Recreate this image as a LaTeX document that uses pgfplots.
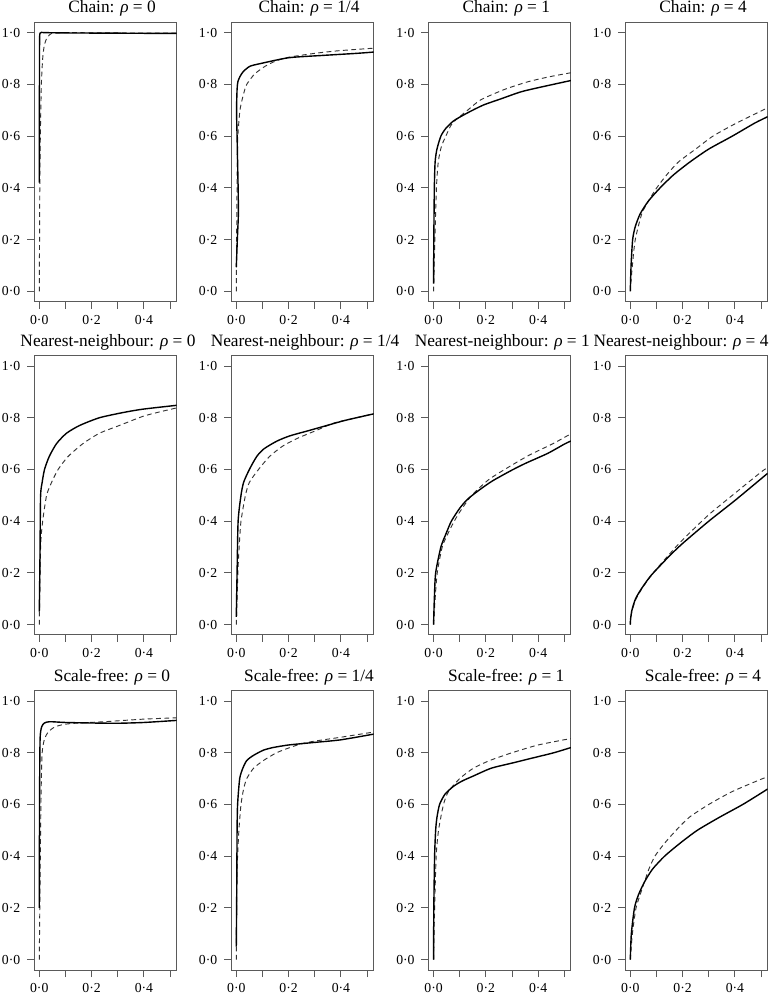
\documentclass[border=0pt]{standalone}
\usepackage{fontspec}
\setmainfont{Liberation Serif}
\usepackage{pgfplots}
\pgfplotsset{compat=1.18}
\definecolor{boxgray}{HTML}{5A5A5A}

\pgfplotsset{
  panel/.style={
    scale only axis, width=107pt, height=209.5pt, anchor=south west,
    xmin=-0.0202, xmax=0.5252, ymin=-0.04, ymax=1.04,
    axis line style={boxgray, line width=0.75pt},
    tick pos=left, tick align=outside, major tick length=5.25pt,
    tick style={boxgray, line width=0.75pt},
    xtick={0,0.1,0.2,0.3,0.4,0.5}, xticklabels={0·0,,0·2,,0·4,},
    ytick={0,0.2,0.4,0.6,0.8,1}, yticklabels={0·0,0·2,0·4,0·6,0·8,1·0},
    ticklabel style={font=\fontsize{10.3}{12}\selectfont},
    yticklabel style={xshift=-1.5pt},
    xticklabel style={yshift=-1.5pt},
    every axis title shift=0pt,
    title style={font=\fontsize{13}{15}\selectfont, at={(0.5,1)}, anchor=base, yshift=7pt, xshift=5pt},
  },
  nn/.style={title style={xshift=-3pt}},
  sol/.style={black, line width=1.05pt, no marks, smooth, tension=0.4},
  das/.style={black!80, line width=0.7pt, dash pattern=on 3.6pt off 2.6pt, no marks, smooth, tension=0.4},
}

\begin{document}
\begin{tikzpicture}
\useasboundingbox (0,0) rectangle (581.25pt,746.25pt);

% ---- row 1: chain
\begin{axis}[panel, at={(25.5pt,520pt)}, title={Chain: \textit{ρ} = 0}]
\addplot[das] coordinates {(0,0) (0.001,0.2) (0.002,0.4) (0.004,0.6) (0.008,0.8) (0.013,0.9) (0.019,0.95) (0.027,0.975) (0.034,0.985) (0.047,0.997) (0.1,1.0) (0.3,0.999) (0.525,0.998)};
\addplot[sol] coordinates {(0,0.42) (0.0005,0.7) (0.001,0.95) (0.003,0.998) (0.02,1.0) (0.1,0.999) (0.3,0.998) (0.525,0.997)};
\end{axis}

\begin{axis}[panel, at={(173.25pt,520pt)}, title={Chain: \textit{ρ} = 1/4}]
\addplot[das] coordinates {(0,0) (0.002,0.3) (0.004,0.5) (0.006,0.6) (0.014,0.7) (0.027,0.76) (0.04,0.8) (0.07,0.84) (0.11,0.87) (0.15,0.89) (0.2,0.905) (0.3,0.92) (0.39,0.93) (0.525,0.94)};
\addplot[sol] coordinates {(0,0.093) (0.004,0.2) (0.008,0.3) (0.007,0.4) (0.005,0.5) (0.003,0.6) (0.001,0.7) (0.003,0.78) (0.006,0.81) (0.014,0.83) (0.027,0.85) (0.052,0.87) (0.09,0.88) (0.2,0.903) (0.33,0.912) (0.46,0.92) (0.525,0.925)};
\end{axis}

\begin{axis}[panel, at={(321.2pt,520pt)}, title={Chain: \textit{ρ} = 1}]
\addplot[das] coordinates {(0,0) (0.005,0.2) (0.011,0.4) (0.018,0.5) (0.03,0.56) (0.047,0.6) (0.072,0.65) (0.13,0.7) (0.18,0.74) (0.27,0.78) (0.36,0.81) (0.445,0.83) (0.525,0.845)};
\addplot[sol] coordinates {(0,0.03) (0.001,0.2) (0.003,0.4) (0.006,0.5) (0.013,0.55) (0.028,0.6) (0.047,0.63) (0.078,0.66) (0.13,0.69) (0.19,0.72) (0.26,0.745) (0.33,0.77) (0.39,0.785) (0.525,0.815)};
\end{axis}

\begin{axis}[panel, at={(468.75pt,520pt)}, title={Chain: \textit{ρ} = 4}]
\addplot[das] coordinates {(0.002,0.03) (0.008,0.1) (0.019,0.2) (0.044,0.3) (0.07,0.35) (0.101,0.4) (0.139,0.45) (0.184,0.5) (0.25,0.55) (0.316,0.6) (0.405,0.65) (0.506,0.7) (0.525,0.71)};
\addplot[sol] coordinates {(0,0) (0.003,0.1) (0.009,0.2) (0.019,0.25) (0.038,0.3) (0.07,0.35) (0.114,0.4) (0.165,0.45) (0.228,0.5) (0.30,0.55) (0.39,0.6) (0.475,0.65) (0.525,0.675)};
\end{axis}

% ---- row 2: nearest-neighbour
\begin{axis}[panel, nn, at={(25.5pt,270pt)}, title={Nearest-neighbour: \textit{ρ} = 0}]
\addplot[das] coordinates {(0,0) (0.005,0.3) (0.013,0.4) (0.028,0.5) (0.047,0.55) (0.072,0.6) (0.11,0.65) (0.167,0.7) (0.23,0.74) (0.306,0.77) (0.395,0.805) (0.458,0.822) (0.525,0.838)};
\addplot[sol] coordinates {(0,0.05) (0.002,0.2) (0.003,0.3) (0.005,0.5) (0.011,0.55) (0.02,0.6) (0.038,0.65) (0.066,0.7) (0.104,0.74) (0.154,0.77) (0.23,0.8) (0.32,0.82) (0.395,0.833) (0.525,0.848)};
\end{axis}

\begin{axis}[panel, nn, at={(173.25pt,270pt)}, title={Nearest-neighbour: \textit{ρ} = 1/4}]
\addplot[das] coordinates {(0,0) (0.006,0.2) (0.011,0.3) (0.018,0.4) (0.035,0.5) (0.05,0.55) (0.085,0.6) (0.127,0.65) (0.177,0.69) (0.233,0.72) (0.304,0.75) (0.375,0.78) (0.46,0.8) (0.525,0.815)};
\addplot[sol] coordinates {(0,0.03) (0.003,0.2) (0.007,0.4) (0.018,0.5) (0.028,0.55) (0.05,0.6) (0.078,0.65) (0.106,0.68) (0.156,0.71) (0.205,0.73) (0.276,0.75) (0.346,0.77) (0.417,0.79) (0.525,0.815)};
\end{axis}

\begin{axis}[panel, nn, at={(321.2pt,270pt)}, title={Nearest-neighbour: \textit{ρ} = 1}]
\addplot[das] coordinates {(0,0) (0.006,0.1) (0.014,0.2) (0.033,0.3) (0.054,0.35) (0.079,0.4) (0.103,0.44) (0.146,0.5) (0.21,0.56) (0.28,0.605) (0.365,0.655) (0.457,0.7) (0.525,0.738)};
\addplot[sol] coordinates {(0,0) (0.003,0.1) (0.008,0.2) (0.028,0.3) (0.047,0.35) (0.068,0.4) (0.1,0.45) (0.13,0.485) (0.174,0.52) (0.224,0.555) (0.295,0.595) (0.35,0.623) (0.436,0.662) (0.5,0.698) (0.525,0.71)};
\end{axis}

\begin{axis}[panel, nn, at={(468.75pt,270pt)}, title={Nearest-neighbour: \textit{ρ} = 4}, title style={xshift=-13.5pt}]
\addplot[das] coordinates {(0,0) (0.001,0.018) (0.005,0.045) (0.01,0.065) (0.02,0.095) (0.035,0.123) (0.05,0.148) (0.075,0.183) (0.1,0.215) (0.15,0.273) (0.2,0.328) (0.3,0.425) (0.4,0.508) (0.5,0.59) (0.525,0.607)};
\addplot[sol] coordinates {(0,0) (0.001,0.02) (0.005,0.05) (0.01,0.07) (0.02,0.1) (0.035,0.127) (0.05,0.15) (0.075,0.185) (0.1,0.213) (0.15,0.266) (0.2,0.314) (0.3,0.4) (0.4,0.48) (0.5,0.564) (0.525,0.585)};
\end{axis}

% ---- row 3: scale-free
\begin{axis}[panel, at={(25.5pt,18.75pt)}, title={Scale-free: \textit{ρ} = 0}]
\addplot[das] coordinates {(0,0) (0.005,0.5) (0.008,0.7) (0.011,0.8) (0.019,0.85) (0.034,0.88) (0.06,0.9) (0.097,0.91) (0.15,0.915) (0.25,0.92) (0.4,0.93) (0.525,0.935)};
\addplot[sol] coordinates {(0,0.2) (0.001,0.6) (0.003,0.85) (0.009,0.9) (0.02,0.915) (0.04,0.92) (0.1,0.917) (0.2,0.915) (0.3,0.914) (0.4,0.917) (0.525,0.925)};
\end{axis}

\begin{axis}[panel, at={(173.25pt,18.75pt)}, title={Scale-free: \textit{ρ} = 1/4}]
\addplot[das] coordinates {(0,0) (0.002,0.3) (0.005,0.4) (0.01,0.5) (0.018,0.6) (0.028,0.66) (0.04,0.7) (0.066,0.74) (0.104,0.77) (0.154,0.8) (0.205,0.82) (0.25,0.835) (0.3,0.845) (0.4,0.86) (0.525,0.88)};
\addplot[sol] coordinates {(0,0.05) (0.002,0.3) (0.003,0.5) (0.005,0.6) (0.013,0.7) (0.025,0.74) (0.04,0.77) (0.066,0.79) (0.104,0.81) (0.14,0.82) (0.2,0.83) (0.3,0.84) (0.4,0.85) (0.525,0.872)};
\end{axis}

\begin{axis}[panel, at={(321.2pt,18.75pt)}, title={Scale-free: \textit{ρ} = 1}]
\addplot[das] coordinates {(0,0) (0.004,0.2) (0.01,0.4) (0.019,0.5) (0.038,0.6) (0.057,0.65) (0.1,0.7) (0.152,0.74) (0.215,0.77) (0.3,0.8) (0.4,0.83) (0.525,0.855)};
\addplot[sol] coordinates {(0,0) (0.001,0.2) (0.004,0.4) (0.008,0.5) (0.013,0.55) (0.023,0.6) (0.044,0.64) (0.076,0.67) (0.108,0.69) (0.152,0.71) (0.22,0.74) (0.3,0.76) (0.38,0.78) (0.46,0.8) (0.525,0.82)};
\end{axis}

\begin{axis}[panel, at={(468.75pt,18.75pt)}, title={Scale-free: \textit{ρ} = 4}]
\addplot[das] coordinates {(0,0) (0.008,0.1) (0.022,0.2) (0.044,0.27) (0.054,0.3) (0.071,0.35) (0.094,0.4) (0.131,0.45) (0.175,0.5) (0.225,0.55) (0.3,0.6) (0.39,0.65) (0.506,0.7) (0.525,0.705)};
\addplot[sol] coordinates {(0,0) (0.004,0.1) (0.016,0.2) (0.031,0.25) (0.054,0.3) (0.085,0.35) (0.131,0.4) (0.19,0.45) (0.256,0.5) (0.34,0.55) (0.43,0.6) (0.51,0.65) (0.525,0.66)};
\end{axis}
\end{tikzpicture}
\end{document}
